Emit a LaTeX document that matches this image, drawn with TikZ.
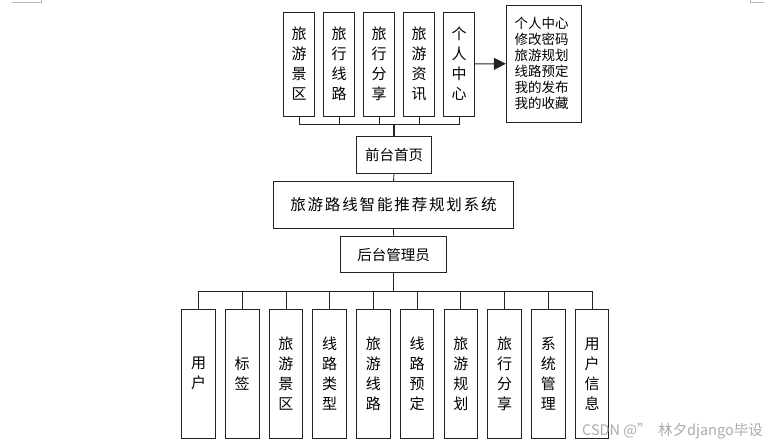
\documentclass[tikz,border=0pt]{standalone}
\usepackage{fontspec}
\setmainfont{Noto Sans CJK SC}
\newfontfamily\titlefont[LetterSpace=12]{Noto Sans CJK SC}
\usetikzlibrary{arrows.meta}
\definecolor{boxline}{RGB}{35,35,35}
\definecolor{markgray}{RGB}{185,185,185}
\definecolor{wmgray}{RGB}{170,170,170}

\tikzset{
  modbox/.style={draw=boxline, line width=0.9pt, inner sep=0pt, align=center,
    font=\fontsize{15}{20}\selectfont},
  topbox/.style={modbox, minimum width=31.5pt, minimum height=104pt},
  subbox/.style={modbox, minimum width=33.5pt, minimum height=129pt},
  hubbox/.style={modbox, font=\fontsize{14.5}{17}\selectfont},
  link/.style={draw=boxline, line width=0.8pt},
  trunk/.style={draw=boxline, line width=1.3pt}
}

\begin{document}
\begin{tikzpicture}[x=1pt, y=-1pt]
  \useasboundingbox (0,0) rectangle (764,444);
  % page corner marks
  \draw[markgray, line width=0.8pt] (12,2.3) -- (41.3,2.3) -- (41.3,0);
  \draw[markgray, line width=0.8pt] (764,2.3) -- (750,2.3) -- (750,0);

  % front end modules
  \node[topbox] (tspot)   at (299,64) {旅\\游\\景\\区};
  \node[topbox] (troute)  at (339,64) {旅\\行\\线\\路};
  \node[topbox] (tshare)  at (379,64) {旅\\行\\分\\享};
  \node[topbox] (tnews)   at (419,64) {旅\\游\\资\\讯};
  \node[topbox] (tcenter) at (459,64) {个\\人\\中\\心};
  \node[modbox, minimum width=74.7pt, minimum height=116.7pt, text width=58pt,
    align=left, font=\fontsize{13.5}{16}\selectfont] (ucenter) at (543.7,63.7)
    {个人中心\\修改密码\\旅游规划\\线路预定\\我的发布\\我的收藏};
  \draw[link, line width=1pt, -{Triangle[length=12pt, width=12pt]}] (tcenter.east) -- (ucenter.west);

  % centre column
  \node[hubbox, minimum width=74.6pt, minimum height=36.3pt] (front) at (394,155) {前台首页};
  \node[modbox, minimum width=239.6pt, minimum height=46.6pt,
    font=\fontsize{15.5}{18}\titlefont] (sys) at (393.5,205) {旅游路线智能推荐规划系统};
  \node[hubbox, minimum width=106pt, minimum height=35.6pt] (admin) at (393.7,254.5) {后台管理员};

  \coordinate (topbus) at (394,124.7);
  \coordinate (botbus) at (393.7,291.5);
  \foreach \t in {tspot,troute,tshare,tnews,tcenter}
    \draw[link] (\t.south) |- (topbus);
  \draw[trunk] (topbus) -- (front.north);
  \draw[link] (front.south) -- (sys.north);
  \draw[link] (sys.south) -- (admin.north);
  \draw[trunk] (admin.south) -- (botbus);

  % back end modules
  \foreach \lbl [count=\i] in {{用\\户},{标\\签},{旅\\游\\景\\区},{线\\路\\类\\型},
      {旅\\游\\线\\路},{线\\路\\预\\定},{旅\\游\\规\\划},{旅\\行\\分\\享},
      {系\\统\\管\\理},{用\\户\\信\\息}} {
    \pgfmathsetmacro\bx{198.5+43.73*(\i-1)}
    \node[subbox] (b\i) at (\bx,373.8) {\lbl};
    \draw[link] (botbus) -| (b\i.north);
  }

  % watermark
  \node[wmgray, anchor=east, inner sep=0pt, font=\fontsize{14.5}{16}\selectfont]
    (mark) at (763,431.5) {CSDN @" \ 林夕django毕设};
\end{tikzpicture}
\end{document}
